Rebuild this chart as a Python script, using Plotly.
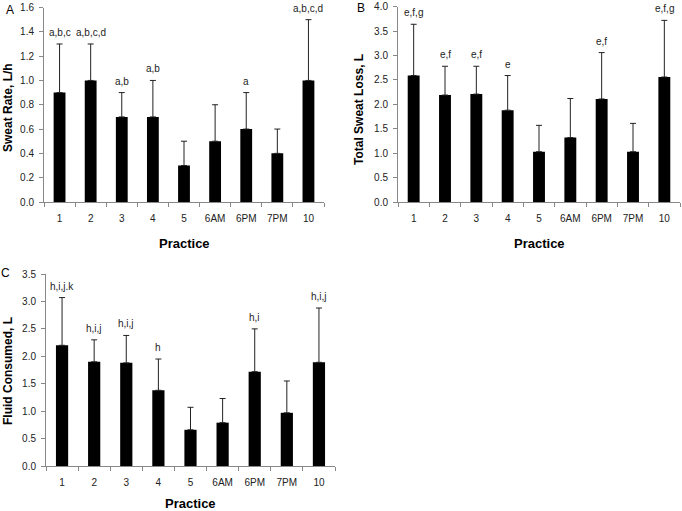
import plotly.graph_objects as go

practice = ["1", "2", "3", "4", "5", "6AM", "6PM", "7PM", "10"]

sweat_rate = [0.9, 1.0, 0.7, 0.7, 0.3, 0.5, 0.6, 0.4, 1.0]
sweat_rate_sd = [0.4, 0.3, 0.2, 0.3, 0.2, 0.3, 0.3, 0.2, 0.5]
sweat_rate_labels = ["a,b,c", "a,b,c,d", "a,b", "a,b", "", "", "a", "", "a,b,c,d"]

sweat_loss = [2.59, 2.19, 2.21, 1.88, 1.03, 1.32, 2.11, 1.03, 2.56]
sweat_loss_sd = [1.05, 0.59, 0.57, 0.71, 0.54, 0.80, 0.95, 0.58, 1.16]
sweat_loss_labels = ["e,f,g", "e,f", "e,f", "e", "", "", "e,f", "", "e,f,g"]

fluid = [2.20, 1.90, 1.88, 1.38, 0.66, 0.79, 1.72, 0.97, 1.89]
fluid_sd = [0.87, 0.40, 0.50, 0.57, 0.41, 0.44, 0.78, 0.58, 0.99]
fluid_labels = ["h,i,j.k", "h,i,j", "h,i,j", "h", "", "", "h,i", "", "h,i,j"]

W, H = 682, 511
FONT = "Liberation Sans, Arial, sans-serif"
AXC = "#888888"

panels = [
    dict(vals=sweat_rate, sd=sweat_rate_sd, labels=sweat_rate_labels, title="Sweat Rate, L/h",
         letter="A", xd=(44, 324), yd=(7.5, 202), yr=(0, 1.6), dt=0.2, fmt=".1f",
         ytx=8, ytitle_y=108, letter_xy=(10, 10), prac_y=243),
    dict(vals=sweat_loss, sd=sweat_loss_sd, labels=sweat_loss_labels, title="Total Sweat Loss, L",
         letter="B", xd=(398, 680), yd=(6.7, 202), yr=(0, 4.0), dt=0.5, fmt=".1f",
         ytx=359, ytitle_y=110, letter_xy=(361, 8), prac_y=243),
    dict(vals=fluid, sd=fluid_sd, labels=fluid_labels, title="Fluid Consumed, L",
         letter="C", xd=(46, 335), yd=(274, 466), yr=(0, 3.5), dt=0.5, fmt=".1f",
         ytx=8, ytitle_y=371, letter_xy=(5, 273), prac_y=503),
]

fig = go.Figure()
annotations = []
layout = {}
for i, p in enumerate(panels):
    n = "" if i == 0 else str(i + 1)
    xa, ya = "x" + n, "y" + n
    fig.add_trace(go.Bar(
        x=practice, y=p["vals"], xaxis=xa, yaxis=ya,
        marker=dict(color="black", line=dict(width=0)), width=0.38,
        error_y=dict(type="data", array=p["sd"], arrayminus=[0] * len(p["sd"]),
                     symmetric=False, color="#222222", thickness=1, width=3),
        showlegend=False, hoverinfo="skip"))
    layout["xaxis" + n] = dict(
        domain=[p["xd"][0] / W, p["xd"][1] / W], anchor=ya, type="category",
        showline=True, linecolor=AXC, linewidth=1, ticks="outside", tickson="boundaries",
        ticklen=4, tickcolor=AXC, showgrid=False, zeroline=False, ticklabelstandoff=7,
        tickfont=dict(family=FONT, size=10, color="#222222"), range=[-0.5, 8.5])
    layout["yaxis" + n] = dict(
        domain=[1 - p["yd"][1] / H, 1 - p["yd"][0] / H], anchor=xa, range=list(p["yr"]),
        dtick=p["dt"], tick0=0, tickformat=p["fmt"], showline=True, linecolor=AXC, linewidth=1,
        ticks="outside", ticklen=4, tickcolor=AXC, showgrid=False, zeroline=False,
        ticklabelstandoff=3,
        tickfont=dict(family=FONT, size=10, color="#222222"))
    # significance labels (x given as category index)
    for k, (v, s, lab) in enumerate(zip(p["vals"], p["sd"], p["labels"])):
        if lab:
            annotations.append(dict(x=k, y=v + s, xref=xa, yref=ya, text=lab, showarrow=False,
                                    yanchor="bottom", yshift=4,
                                    font=dict(family=FONT, size=10, color="#222222")))
    # axis titles
    annotations.append(dict(x=(p["xd"][0] + p["xd"][1]) / 2 / W, y=1 - p["prac_y"] / H,
                            xref="paper", yref="paper", text="<b>Practice</b>", showarrow=False,
                            xanchor="center", yanchor="middle",
                            font=dict(family=FONT, size=13, color="black")))
    annotations.append(dict(x=p["ytx"] / W, y=1 - p["ytitle_y"] / H, xref="paper", yref="paper",
                            text="<b>" + p["title"] + "</b>", showarrow=False, textangle=-90,
                            xanchor="center", yanchor="middle",
                            font=dict(family=FONT, size=12, color="black")))
    annotations.append(dict(x=p["letter_xy"][0] / W, y=1 - p["letter_xy"][1] / H, xref="paper",
                            yref="paper", text=p["letter"], showarrow=False,
                            xanchor="center", yanchor="middle",
                            font=dict(family=FONT, size=12, color="black")))

fig.update_layout(width=W, height=H, margin=dict(l=0, r=0, t=0, b=0, pad=0, autoexpand=False),
                  paper_bgcolor="white", plot_bgcolor="white",
                  annotations=annotations, **layout)
fig.write_html("out.html", config={"displayModeBar": False},
               post_script="document.body.style.margin='0';document.body.style.overflow='hidden';")
